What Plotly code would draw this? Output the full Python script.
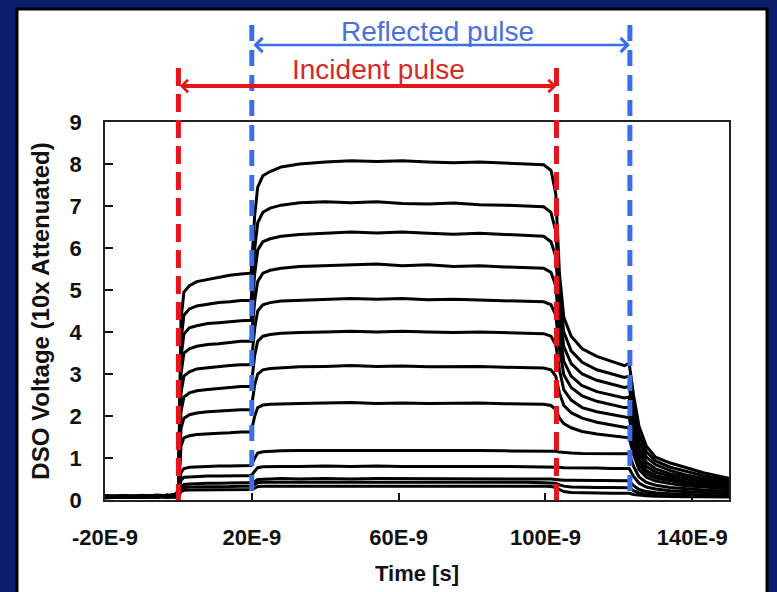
import plotly.graph_objects as go

# Time axis (ns)
time_ns = [-20, -15, -10, -6, -3, -1, 0, 0.7, 1.5, 3, 5, 8, 11, 14, 17, 19.8,
           20.8, 21.6, 23, 25, 28, 33, 40, 47, 54, 61, 68, 75, 82, 89, 95, 99.5,
           101.5, 102.8, 103.8, 105, 107, 110, 114, 118, 121.5, 122.8,
           124, 125.5, 127.5, 130, 134, 138, 143, 150]

x_tick_vals = [-20, 20, 60, 100, 140]
x_tick_text = ["-20E-9", "20E-9", "60E-9", "100E-9", "140E-9"]
y_tick_vals = [0, 1, 2, 3, 4, 5, 6, 7, 8, 9]

incident_edges = [0, 103]
reflected_edges = [20, 123]

pulse_1 = [0.08, 0.1, 0.07, 0.12, 0.1, 0.14, 0.2,
           4.3, 4.95, 5.1, 5.2, 5.25, 5.3, 5.35, 5.38, 5.4,
           6.8, 7.45, 7.72, 7.82, 7.93, 8.0, 8.05, 8.08, 8.06, 8.08, 8.05, 8.03, 8.05, 8.02, 8.0, 7.98,
           7.85, 7.3, 5.4, 4.35, 3.9, 3.6, 3.42, 3.3, 3.2, 3.25,
           2.5, 1.75, 1.28, 1.02, 0.88, 0.78, 0.65, 0.52]
pulse_2 = [0.1, 0.07, 0.11, 0.08, 0.12, 0.1, 0.18,
           3.8, 4.4, 4.55, 4.62, 4.66, 4.7, 4.72, 4.75, 4.75,
           6.0, 6.6, 6.85, 6.95, 7.02, 7.08, 7.1, 7.08, 7.1, 7.06, 7.05, 7.07, 7.03, 7.02, 7.0, 6.98,
           6.85, 6.4, 4.9, 4.0, 3.55, 3.28, 3.1, 3.0, 2.92, 2.95,
           2.2, 1.55, 1.15, 0.93, 0.78, 0.69, 0.58, 0.47]
pulse_3 = [0.06, 0.09, 0.1, 0.07, 0.09, 0.12, 0.16,
           3.4, 3.95, 4.1, 4.15, 4.2, 4.22, 4.25, 4.27, 4.28,
           5.4, 5.95, 6.15, 6.22, 6.28, 6.32, 6.35, 6.38, 6.36, 6.38, 6.35, 6.33, 6.35, 6.32, 6.3, 6.28,
           6.15, 5.8, 4.5, 3.65, 3.25, 3.0, 2.85, 2.76, 2.68, 2.7,
           2.0, 1.38, 1.02, 0.84, 0.7, 0.6, 0.52, 0.43]
pulse_4 = [0.09, 0.06, 0.08, 0.1, 0.07, 0.11, 0.15,
           3.0, 3.5, 3.6, 3.66, 3.7, 3.72, 3.75, 3.78, 3.78,
           4.75, 5.2, 5.4, 5.47, 5.52, 5.56, 5.58, 5.6, 5.62, 5.58, 5.6, 5.56, 5.58, 5.55, 5.54, 5.52,
           5.42, 5.1, 4.05, 3.3, 2.95, 2.72, 2.58, 2.5, 2.43, 2.45,
           1.8, 1.22, 0.9, 0.74, 0.62, 0.55, 0.48, 0.4]
pulse_5 = [0.07, 0.1, 0.06, 0.09, 0.11, 0.08, 0.14,
           2.55, 2.95, 3.05, 3.12, 3.15, 3.18, 3.2, 3.22, 3.22,
           4.1, 4.5, 4.65, 4.7, 4.74, 4.76, 4.78, 4.8, 4.78, 4.8, 4.77, 4.78, 4.76, 4.75, 4.74, 4.72,
           4.65, 4.4, 3.6, 2.98, 2.68, 2.48, 2.35, 2.27, 2.2, 2.2,
           1.6, 1.08, 0.8, 0.66, 0.56, 0.5, 0.44, 0.37]
pulse_6 = [0.1, 0.08, 0.09, 0.06, 0.1, 0.12, 0.13,
           2.1, 2.45, 2.55, 2.6, 2.63, 2.66, 2.68, 2.7, 2.7,
           3.45, 3.78, 3.9, 3.94, 3.97, 3.99, 4.0, 4.02, 4.0, 4.02, 4.0, 3.99, 4.0, 3.98, 3.97, 3.96,
           3.9, 3.7, 3.1, 2.62, 2.38, 2.2, 2.1, 2.03, 1.97, 1.96,
           1.42, 0.95, 0.7, 0.58, 0.5, 0.44, 0.39, 0.33]
pulse_7 = [0.08, 0.11, 0.07, 0.1, 0.08, 0.1, 0.12,
           1.7, 1.95, 2.03, 2.07, 2.1, 2.12, 2.13, 2.15, 2.15,
           2.75, 3.0, 3.1, 3.13, 3.15, 3.17, 3.18, 3.2, 3.18, 3.19, 3.17, 3.17, 3.18, 3.16, 3.15, 3.14,
           3.1, 2.95, 2.55, 2.25, 2.08, 1.95, 1.85, 1.78, 1.73, 1.72,
           1.25, 0.84, 0.62, 0.52, 0.45, 0.39, 0.35, 0.3]
pulse_8 = [0.09, 0.07, 0.1, 0.08, 0.11, 0.09, 0.12,
           1.28, 1.48, 1.53, 1.56, 1.58, 1.59, 1.6, 1.62, 1.62,
           2.0, 2.2, 2.26, 2.28, 2.29, 2.3, 2.31, 2.32, 2.3, 2.31, 2.3, 2.3, 2.31, 2.29, 2.29, 2.28,
           2.25, 2.15, 1.95, 1.82, 1.72, 1.63, 1.57, 1.53, 1.5, 1.48,
           1.08, 0.72, 0.54, 0.45, 0.39, 0.34, 0.31, 0.27]
pulse_9 = [0.07, 0.09, 0.08, 0.1, 0.07, 0.1, 0.11,
           0.65, 0.75, 0.78, 0.79, 0.8, 0.81, 0.81, 0.82, 0.82,
           1.0, 1.12, 1.15, 1.16, 1.17, 1.18, 1.18, 1.19, 1.18, 1.19, 1.18, 1.18, 1.18, 1.17, 1.17, 1.17,
           1.17, 1.16, 1.14, 1.13, 1.12, 1.11, 1.11, 1.1, 1.1, 1.1,
           0.8, 0.55, 0.42, 0.35, 0.3, 0.27, 0.24, 0.21]
pulse_10 = [0.1, 0.08, 0.06, 0.09, 0.1, 0.08, 0.1,
            0.47, 0.54, 0.55, 0.56, 0.57, 0.57, 0.58, 0.58, 0.58,
            0.68, 0.77, 0.79, 0.8, 0.8, 0.8, 0.81, 0.8, 0.81, 0.8, 0.8, 0.81, 0.8, 0.8, 0.79, 0.79,
            0.79, 0.79, 0.78, 0.77, 0.77, 0.76, 0.76, 0.75, 0.75, 0.75,
            0.56, 0.4, 0.31, 0.26, 0.22, 0.2, 0.18, 0.16]
pulse_11 = [0.06, 0.09, 0.08, 0.07, 0.09, 0.1, 0.09,
            0.32, 0.37, 0.38, 0.39, 0.4, 0.4, 0.41, 0.41, 0.41,
            0.44, 0.49, 0.5, 0.5, 0.51, 0.5, 0.51, 0.5, 0.51, 0.51, 0.5, 0.51, 0.5, 0.5, 0.5, 0.5,
            0.5, 0.49, 0.48, 0.47, 0.47, 0.47, 0.46, 0.46, 0.46, 0.46,
            0.34, 0.25, 0.2, 0.17, 0.15, 0.13, 0.12, 0.11]
pulse_12 = [0.08, 0.06, 0.09, 0.1, 0.08, 0.07, 0.08,
            0.26, 0.3, 0.31, 0.31, 0.32, 0.32, 0.32, 0.33, 0.33,
            0.37, 0.41, 0.42, 0.42, 0.42, 0.43, 0.42, 0.42, 0.43, 0.42, 0.42, 0.42, 0.43, 0.42, 0.42, 0.41,
            0.41, 0.4, 0.36, 0.33, 0.31, 0.3, 0.3, 0.3, 0.29, 0.29,
            0.22, 0.17, 0.14, 0.12, 0.11, 0.1, 0.1, 0.09]
pulse_13 = [0.05, 0.07, 0.06, 0.08, 0.06, 0.07, 0.07,
            0.2, 0.23, 0.24, 0.24, 0.25, 0.25, 0.25, 0.25, 0.25,
            0.28, 0.32, 0.33, 0.33, 0.33, 0.34, 0.33, 0.33, 0.34, 0.33, 0.33, 0.33, 0.33, 0.33, 0.33, 0.33,
            0.32, 0.3, 0.25, 0.2, 0.18, 0.17, 0.17, 0.16, 0.16, 0.16,
            0.13, 0.11, 0.1, 0.09, 0.08, 0.08, 0.08, 0.07]

pulses = [pulse_1, pulse_2, pulse_3, pulse_4, pulse_5, pulse_6, pulse_7,
          pulse_8, pulse_9, pulse_10, pulse_11, pulse_12, pulse_13]

NAVY = "#0b1d6b"
RED = "#e8141a"
BLUE = "#3d6ee8"
FONT = "Liberation Sans"

fig = go.Figure()
for p in pulses:
    fig.add_trace(go.Scatter(x=time_ns, y=p, mode="lines",
                             line=dict(color="black", width=3),
                             showlegend=False, hoverinfo="skip"))

# plot geometry (px) used to place the panel in paper coords
L, R, T, B = 105, 48, 122, 92
PW, PH = 777 - L - R, 592 - T - B

def px_to_paper_x(px):
    return (px - L) / PW

def px_to_paper_y(py):
    return (592 - B - py) / PH

def px_to_time(px):
    return (px - L) / (PW / 170.0) - 20

shapes = [dict(type="rect", xref="paper", yref="paper",
               x0=px_to_paper_x(17), x1=px_to_paper_x(767),
               y0=px_to_paper_y(620), y1=px_to_paper_y(9),
               fillcolor="white", line=dict(color="black", width=3), layer="below")]
for xe in incident_edges:
    shapes.append(dict(type="line", xref="x", yref="paper", x0=xe, x1=xe,
                       y0=px_to_paper_y(68), y1=0,
                       line=dict(color=RED, width=5, dash="18px,8px"), layer="above"))
for xe in reflected_edges:
    shapes.append(dict(type="line", xref="x", yref="paper", x0=xe, x1=xe,
                       y0=px_to_paper_y(25), y1=0,
                       line=dict(color=BLUE, width=5, dash="16px,9px"), layer="above"))

annotations = [
    dict(x=incident_edges[1], y=px_to_paper_y(86), ax=incident_edges[0], ay=0,
         xref="x", yref="paper", axref="x", ayref="pixel", text="", showarrow=True,
         arrowhead=4, startarrowhead=4, arrowside="end+start",
         arrowcolor=RED, arrowwidth=4, arrowsize=0.6, startarrowsize=0.6),
    dict(x=reflected_edges[1], y=px_to_paper_y(45), ax=reflected_edges[0], ay=0,
         xref="x", yref="paper", axref="x", ayref="pixel", text="", showarrow=True,
         arrowhead=4, startarrowhead=4, arrowside="end+start",
         arrowcolor=BLUE, arrowwidth=2.5, arrowsize=1.1, startarrowsize=1.1),
    dict(x=px_to_time(378), y=px_to_paper_y(70), xref="x", yref="paper",
         xanchor="center", yanchor="middle",
         text="Incident pulse", showarrow=False,
         font=dict(family=FONT, size=28, color="#d42a2a")),
    dict(x=px_to_time(437), y=px_to_paper_y(31), xref="x", yref="paper",
         xanchor="center", yanchor="middle",
         text="Reflected pulse", showarrow=False,
         font=dict(family=FONT, size=28, color="#4a6fe0")),
]

tickfont = dict(family=FONT, size=22, color="#111", weight="bold")

fig.update_layout(
    template="none",
    width=777, height=592, autosize=False,
    margin=dict(l=L, r=R, t=T, b=B, autoexpand=False),
    paper_bgcolor=NAVY, plot_bgcolor="white",
    shapes=shapes, annotations=annotations,
    xaxis=dict(range=[-20, 150], tickvals=x_tick_vals, ticktext=x_tick_text,
               automargin=False,
               ticks="inside", ticklen=7, tickwidth=1.5, tickcolor="#111",
               showline=True, mirror=True, linecolor="#222", linewidth=1.5,
               showgrid=False, zeroline=False, tickfont=tickfont,
               ticklabelstandoff=17,
               title=dict(text="Time [s]", standoff=16,
                          font=dict(family=FONT, size=22, color="#111", weight="bold"))),
    yaxis=dict(range=[0, 9], tickvals=y_tick_vals, automargin=False,
               ticks="inside", ticklen=8, tickwidth=1.5, tickcolor="#111",
               showline=True, mirror=True, linecolor="#222", linewidth=1.5,
               showgrid=False, zeroline=False, tickfont=tickfont,
               ticklabelstandoff=17,
               title=dict(text="DSO Voltage (10x Attenuated)", standoff=13,
                          font=dict(family=FONT, size=24, color="#111", weight="bold"))),
)

fig.write_html("out.html", config={"displayModeBar": False},
               post_script="document.body.style.margin='0px';")
